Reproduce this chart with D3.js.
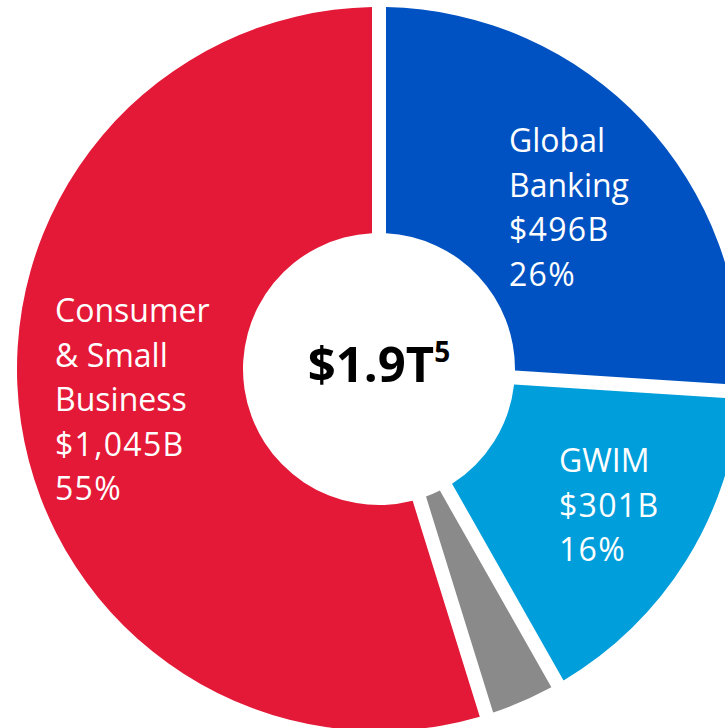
<!DOCTYPE html>
<html>
<head>
<meta charset="utf-8">
<script src="https://cdn.jsdelivr.net/npm/d3@7"></script>
<style>
  body { margin: 0; background: #fff; }
  svg { display: block; font-family: "Open Sans", sans-serif; }
</style>
</head>
<body>
<svg id="chart" width="725" height="728"></svg>
<script>
// segment data, clockwise from 12 o'clock
const segments = ["Global Banking", "GWIM", "Other", "Consumer & Small Business"];
const values = [496, 301, 65, 1045];
const labelLines = [
  ["Global", "Banking", "$496B", "26%"],
  ["GWIM", "$301B", "16%"],
  [],
  ["Consumer", "& Small", "Business", "$1,045B", "55%"]
];
const colors = ["#0052c2", "#009edb", "#8a8a8a", "#e31937"];
const totalLabel = "$1.9T";
const totalNote = "5";

// layout
const cx = 379, cy = 369, rOuter = 362, rInner = 136, gap = 14;
const labelPos = [[509, 152], [559, 472], null, [55, 322]];
const lineH = 44.5;

const svg = d3.select("#chart");
const g = svg.append("g").attr("transform", `translate(${cx},${cy})`);

// angles stay proportional; the gap is cut out of each side by the arc itself
const pie = d3.pie().sort(null).value(d => d);
const arc = d3.arc().innerRadius(rInner).outerRadius(rOuter)
  .padAngle(gap / rOuter).padRadius(rOuter);
const arcs = pie(values);

g.selectAll("path.slice")
  .data(arcs)
  .enter().append("path").attr("class", "slice")
  .attr("d", arc)
  .attr("fill", (d, i) => colors[i]);

// slice labels (figures in the source font run a bit wider)
labelLines.forEach(function(lines, i) {
  if (!lines.length) return;
  const t = svg.append("text")
    .attr("x", labelPos[i][0]).attr("y", labelPos[i][1])
    .attr("fill", "#fff").attr("font-size", 32);
  lines.forEach(function(s, k) {
    t.append("tspan").attr("x", labelPos[i][0]).attr("dy", k ? lineH : 0)
      .attr("letter-spacing", /\d/.test(s) ? 1.3 : 0)
      .text(s);
  });
});

// center total
const ct = svg.append("text")
  .attr("x", cx).attr("y", cy + 13)
  .attr("text-anchor", "middle")
  .attr("font-weight", 700).attr("font-size", 49).attr("fill", "#000");
ct.append("tspan").text(totalLabel);
ct.append("tspan").attr("font-size", 28).attr("dy", -20).text(totalNote);
</script>
</body>
</html>
